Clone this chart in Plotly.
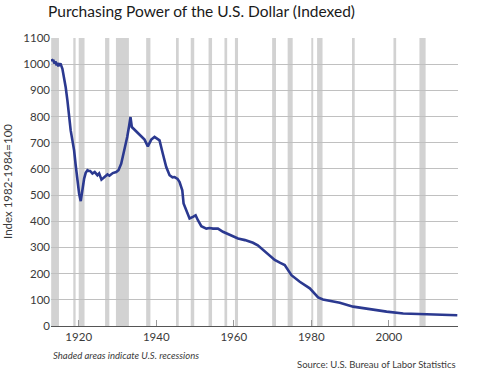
import plotly.graph_objects as go

# ---- data ----
years = [1913.0, 1913.2, 1913.45, 1913.7, 1914.05, 1914.3, 1914.5, 1914.75, 1914.95, 1915.35,
         1915.79, 1916.23, 1916.64, 1917.08, 1917.52, 1917.93, 1918.37, 1918.81, 1919.22, 1919.66,
         1920.1, 1920.52, 1920.96, 1921.4, 1921.8, 1922.25, 1922.6, 1922.95, 1923.54, 1924.13,
         1924.83, 1925.27, 1925.87, 1926.56, 1927.0, 1927.42, 1927.93, 1928.79, 1929.66, 1930.26,
         1930.96, 1931.81, 1932.51, 1933.02, 1933.36, 1933.7, 1934.39, 1935.25, 1936.12, 1936.98,
         1937.83, 1938.71, 1939.56, 1940.2, 1940.85, 1941.7, 1942.58, 1943.44, 1944.2, 1944.73,
         1945.5, 1946.02, 1946.72, 1947.05, 1947.75, 1948.6, 1949.46, 1950.16, 1950.75, 1951.63,
         1952.92, 1953.8, 1954.63, 1955.92, 1957.21, 1958.94, 1961.09, 1962.9, 1964.96, 1966.2,
         1967.55, 1969.0, 1970.57, 1972.0, 1973.15, 1974.88, 1977.03, 1979.61, 1981.0, 1981.76,
         1983.0, 1984.78, 1987.36, 1990.8, 1995.12, 1999.43, 2003.72, 2008.04, 2012.35, 2017.67]
power = [1020, 1012, 1017, 1003, 1010, 995, 1005, 992, 1001, 1000,
         982, 950, 912, 862, 798, 747, 709, 671, 614, 557,
         506, 477, 531, 563, 585, 595, 592, 592, 582, 588,
         576, 583, 559, 569, 575, 579, 574, 584, 588, 595,
         620, 671, 722, 766, 798, 760, 750, 741, 728, 712,
         686, 712, 722, 715, 709, 658, 607, 576, 568, 569,
         562, 550, 518, 468, 442, 411, 417, 423, 404, 381,
         372, 374, 372, 372, 360, 347, 334, 328, 318, 308,
         290, 272, 252, 241, 233, 194, 169, 144, 120, 109,
         101, 96, 89, 74, 64, 55, 48, 45, 42, 41]

recessions = [(1912.9, 1914.9), (1918.6, 1919.2), (1920.0, 1921.5), (1926.8, 1927.9),
              (1929.6, 1932.95), (1937.4, 1938.5), (1945.1, 1945.8), (1948.9, 1949.8),
              (1953.5, 1954.4), (1957.6, 1958.3), (1960.3, 1961.1), (1969.9, 1970.9),
              (1973.9, 1975.2), (1980.0, 1980.5), (1981.5, 1982.9), (1990.5, 1991.2),
              (2001.2, 2001.9), (2007.9, 2009.5)]

x_ticks = [1920, 1940, 1960, 1980, 2000]
y_ticks = list(range(0, 1101, 100))

FONT = "Lato"
TXT = "#3a3a3a"
PLOT_W = 484 - 51 - 26
PLOT_H = 371 - 38 - 45

fig = go.Figure()
fig.add_trace(go.Scatter(x=years, y=power, mode="lines",
                         line=dict(color="#2b3990", width=2.6), hoverinfo="skip"))

shapes = []
for a, b in recessions:
    shapes.append(dict(type="rect", xref="x", yref="y", x0=a, x1=b, y0=0, y1=1100,
                       fillcolor="#d2d2d2", line=dict(width=0), layer="below"))

fig.update_layout(
    width=484, height=371,
    margin=dict(l=51, r=26, t=38, b=45),
    paper_bgcolor="white", plot_bgcolor="white",
    showlegend=False,
    hovermode=False,
    shapes=shapes,
    font=dict(family=FONT, color=TXT, size=11),
    title=dict(text="Purchasing Power of the U.S. Dollar (Indexed)",
               x=48 / 484, xanchor="left", xref="container",
               y=1 - 12 / 371, yanchor="middle", yref="container",
               font=dict(family=FONT, size=15.5, color="#1a1a1a")),
    xaxis=dict(range=[1912.85, 2017.85], tickvals=x_ticks, ticktext=[str(t) for t in x_ticks],
               showgrid=False, zeroline=False, showline=True, linecolor="#555", linewidth=1,
               ticks="inside", ticklen=6, tickcolor="#999", tickwidth=1,
               tickfont=dict(family=FONT, size=11.5, color=TXT)),
    yaxis=dict(range=[0, 1100], tickvals=y_ticks, showgrid=True, gridcolor="#c0c0c0",
               gridwidth=1, zeroline=False, showline=False, ticks="",
               tickfont=dict(family=FONT, size=11.5, color=TXT)),
    annotations=[
        dict(text="Index 1982-1984=100", xref="paper", yref="paper",
             x=-44 / PLOT_W, y=0.5, xanchor="center", yanchor="middle", textangle=-90,
             showarrow=False, font=dict(family=FONT, size=11.5, color=TXT)),
        dict(text="<i>Shaded areas indicate U.S. recessions</i>", xref="paper", yref="paper",
             x=0, y=-29 / PLOT_H, xanchor="left", yanchor="middle", showarrow=False,
             font=dict(family=FONT, size=9.5, color=TXT)),
        dict(text="Source: U.S. Bureau of Labor Statistics", xref="paper", yref="paper",
             x=1, y=-38 / PLOT_H, xanchor="right", yanchor="middle", showarrow=False,
             font=dict(family=FONT, size=9.5, color=TXT)),
    ],
)

fig.write_html("out.html", config={"displayModeBar": False},
               post_script="document.body.style.margin='0';")
